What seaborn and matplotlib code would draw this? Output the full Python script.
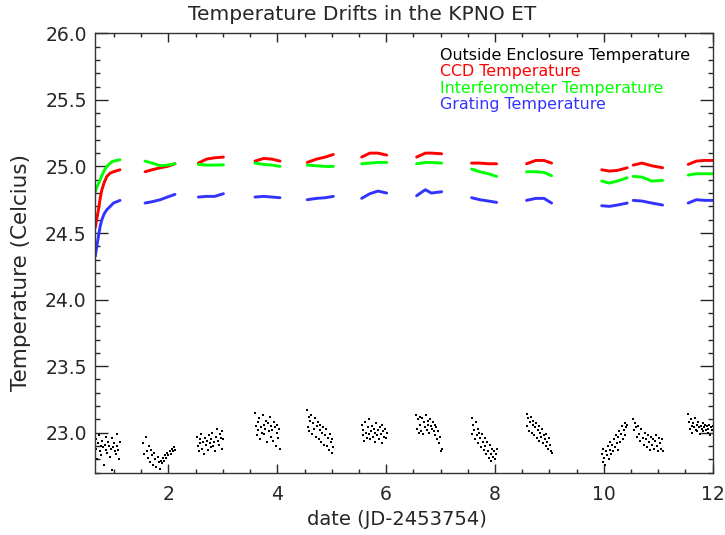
import matplotlib
matplotlib.use("Agg")
import matplotlib.pyplot as plt
from matplotlib.ticker import MultipleLocator, FormatStrFormatter
import seaborn as sns
import numpy as np
import pandas as pd

# sample times of the enclosure sensors, one list per night
sensor_dates = [
    [0.655, 0.68, 0.714, 0.745, 0.777, 0.82, 0.868, 0.93, 0.99, 1.11],
    [1.57, 1.70, 1.85, 1.98, 2.12],
    [2.55, 2.70, 2.85, 3.01],
    [3.59, 3.75, 3.90, 4.05],
    [4.55, 4.72, 4.88, 5.03],
    [5.55, 5.70, 5.85, 6.01],
    [6.56, 6.72, 6.83, 7.02],
    [7.57, 7.72, 7.88, 8.03],
    [8.58, 8.75, 8.90, 9.04],
    [9.96, 10.10, 10.25, 10.43],
    [10.54, 10.70, 10.88, 11.08],
    [11.55, 11.70, 11.85, 12.0],
]
ccd_temp = [
    [24.54, 24.60, 24.675, 24.76, 24.825, 24.88, 24.925, 24.95, 24.96, 24.975],
    [24.96, 24.975, 24.99, 25.0, 25.02],
    [25.025, 25.055, 25.065, 25.07],
    [25.04, 25.06, 25.055, 25.04],
    [25.03, 25.055, 25.07, 25.09],
    [25.07, 25.10, 25.10, 25.085],
    [25.07, 25.10, 25.10, 25.095],
    [25.025, 25.025, 25.02, 25.02],
    [25.02, 25.045, 25.045, 25.025],
    [24.975, 24.965, 24.97, 24.99],
    [25.01, 25.025, 25.005, 24.99],
    [25.015, 25.04, 25.045, 25.045],
]
interf_temp = [
    [24.81, 24.84, 24.87, 24.90, 24.93, 24.97, 25.0, 25.025, 25.04, 25.05],
    [25.04, 25.025, 25.005, 25.01, 25.02],
    [25.015, 25.01, 25.01, 25.012],
    [25.025, 25.015, 25.01, 25.0],
    [25.01, 25.005, 25.0, 25.0],
    [25.02, 25.025, 25.03, 25.03],
    [25.02, 25.03, 25.03, 25.025],
    [24.98, 24.96, 24.945, 24.925],
    [24.96, 24.96, 24.955, 24.93],
    [24.89, 24.875, 24.89, 24.915],
    [24.925, 24.92, 24.89, 24.895],
    [24.935, 24.945, 24.945, 24.945],
]
grating_temp = [
    [24.325, 24.39, 24.475, 24.55, 24.60, 24.645, 24.675, 24.70, 24.725, 24.745],
    [24.725, 24.735, 24.75, 24.77, 24.79],
    [24.77, 24.775, 24.775, 24.795],
    [24.77, 24.775, 24.77, 24.765],
    [24.75, 24.76, 24.765, 24.775],
    [24.76, 24.795, 24.815, 24.80],
    [24.78, 24.825, 24.80, 24.81],
    [24.765, 24.75, 24.74, 24.73],
    [24.745, 24.76, 24.76, 24.725],
    [24.705, 24.70, 24.71, 24.725],
    [24.745, 24.74, 24.725, 24.71],
    [24.725, 24.75, 24.745, 24.745],
]

# outside enclosure readings, logged at a regular rate through each night
night_start = [0.66, 1.54, 2.52, 3.59, 4.54, 5.55, 6.55, 7.57, 8.58, 9.96, 10.54, 11.55]
night_end = [1.11, 2.12, 3.01, 4.05, 5.03, 6.01, 7.02, 8.03, 9.04, 10.43, 11.09, 12.0]
outside_temp = [
    [22.95, 22.88, 22.80, 22.92, 22.98, 22.86, 22.90, 22.83, 22.94, 22.89, 22.76, 22.91, 22.97, 22.87, 22.85,
     22.93, 22.90, 22.82, 22.88, 22.96, 22.72, 22.89, 22.92, 22.86, 22.84, 22.99, 22.90, 22.87, 22.80, 22.93],
    [22.92, 22.84, 22.97, 22.86, 22.81, 22.90, 22.78, 22.87, 22.83, 22.76, 22.85, 22.80, 22.74, 22.82, 22.78,
     22.73, 22.79, 22.77, 22.81, 22.79, 22.83, 22.81, 22.85, 22.83, 22.86, 22.84, 22.88, 22.86, 22.89, 22.87],
    [22.97, 22.90, 22.86, 22.95, 22.92, 22.99, 22.88, 22.93, 22.84, 22.96, 22.91, 22.94, 22.87, 22.98, 22.92,
     22.89, 22.95, 23.00, 22.90, 22.93, 22.86, 22.97, 23.03, 22.94, 22.91, 22.99, 22.96, 22.88, 23.01, 22.95],
    [23.15, 23.05, 22.98, 23.08, 23.02, 23.11, 22.95, 23.04, 23.00, 23.13, 23.06, 22.99, 23.03, 23.09, 22.93,
     23.07, 23.01, 23.12, 22.97, 23.05, 23.02, 22.94, 23.08, 23.04, 22.90, 23.00, 23.06, 22.96, 23.03, 22.88],
    [23.17, 23.04, 23.12, 23.01, 23.09, 23.13, 22.99, 23.07, 23.03, 23.11, 22.97, 23.05, 23.08, 22.95, 23.02,
     23.06, 22.93, 23.00, 23.04, 22.91, 22.98, 23.03, 22.90, 22.96, 22.87, 22.99, 22.93, 22.85, 22.95, 22.89],
    [23.06, 22.98, 23.02, 22.94, 23.08, 23.00, 22.96, 23.04, 22.99, 23.10, 22.95, 23.01, 23.05, 22.97, 23.03,
     22.93, 23.00, 23.07, 22.98, 23.02, 22.95, 23.04, 22.99, 23.06, 22.92, 23.01, 22.97, 23.03, 22.96, 23.00],
    [23.13, 23.03, 23.10, 23.00, 23.12, 23.06, 23.01, 23.11, 22.99, 23.08, 23.04, 23.13, 23.02, 23.09, 23.06,
     23.00, 23.10, 23.05, 23.03, 23.08, 23.01, 23.06, 22.98, 23.04, 22.95, 23.01, 22.92, 22.97, 22.86, 22.88],
    [23.11, 22.99, 23.06, 23.02, 22.95, 23.08, 22.98, 23.03, 22.92, 23.00, 22.96, 22.89, 22.99, 22.93, 22.87,
     22.96, 22.90, 22.84, 22.93, 22.86, 22.81, 22.91, 22.84, 22.79, 22.88, 22.82, 22.86, 22.80, 22.84, 22.88],
    [23.14, 23.05, 23.11, 23.01, 23.08, 23.12, 23.00, 23.06, 23.09, 22.98, 23.04, 23.07, 22.96, 23.02, 23.05,
     22.94, 23.00, 22.97, 23.03, 22.92, 22.98, 22.95, 22.90, 22.99, 22.93, 22.88, 22.96, 22.91, 22.86, 22.85],
    [22.84, 22.78, 22.88, 22.81, 22.76, 22.86, 22.83, 22.90, 22.80, 22.87, 22.93, 22.84, 22.91, 22.86, 22.95,
     22.89, 22.98, 22.92, 22.87, 22.97, 23.01, 22.93, 22.99, 23.05, 22.95, 23.02, 23.07, 22.98, 23.04, 23.06],
    [23.10, 23.02, 23.07, 23.04, 22.97, 23.05, 22.99, 22.94, 23.03, 22.96, 22.91, 23.00, 22.95, 22.89, 22.98,
     22.93, 22.87, 22.97, 22.91, 22.95, 22.88, 22.94, 22.98, 22.90, 22.86, 22.96, 22.92, 22.88, 22.95, 22.86],
    [23.14, 23.08, 23.03, 23.10, 23.05, 23.00, 23.07, 23.04, 23.11, 23.02, 23.06, 23.01, 23.08, 23.04, 22.99,
     23.05, 23.03, 23.07, 23.01, 23.04, 23.06, 23.02, 23.05, 23.00, 23.03, 23.06, 22.98, 23.04, 23.02, 23.05],
]

labels = ["Outside Enclosure Temperature", "CCD Temperature",
          "Interferometer Temperature", "Grating Temperature"]
colors = ["black", "#ff0000", "#00ff00", "#3333ff"]

# long tables for seaborn
rows = []
for name, series in zip(labels[1:], [ccd_temp, interf_temp, grating_temp]):
    for n, (xs, ys) in enumerate(zip(sensor_dates, series)):
        for x, y in zip(xs, ys):
            rows.append((x, y, name, n))
df_in = pd.DataFrame(rows, columns=["date", "temp", "sensor", "night"])

rows = []
for n, vals in enumerate(outside_temp):
    times = np.linspace(night_start[n], night_end[n], len(vals))
    for x, y in zip(times, vals):
        rows.append((x, y, n))
df_out = pd.DataFrame(rows, columns=["date", "temp", "night"])

sns.set_style("ticks")
plt.rcParams['font.family'] = ['DejaVu Sans']

fig = plt.figure(figsize=(7.25, 5.35), dpi=100)
ax = fig.add_axes([0.131, 0.1165, 0.852, 0.8213])

sns.scatterplot(data=df_out, x="date", y="temp", color="black", s=4, marker="s",
                linewidth=0, ax=ax, legend=False)
sns.lineplot(data=df_in, x="date", y="temp", hue="sensor", units="night", estimator=None,
             palette=dict(zip(labels[1:], colors[1:])), linewidth=2.1, ax=ax, legend=False)

ax.set_xlim(0.65, 12.0)
ax.set_ylim(22.7, 26.0)
ax.xaxis.set_major_locator(MultipleLocator(2))
ax.xaxis.set_minor_locator(MultipleLocator(0.5))
ax.yaxis.set_major_locator(MultipleLocator(0.5))
ax.yaxis.set_minor_locator(MultipleLocator(0.1))
ax.yaxis.set_major_formatter(FormatStrFormatter("%.1f"))

ax.tick_params(axis="x", which="major", direction="in", length=6.5, width=1,
               top=True, bottom=True, labelsize=13.5, pad=9)
ax.tick_params(axis="x", which="minor", direction="in", length=3, width=1, top=True, bottom=True)
ax.tick_params(axis="y", which="major", direction="in", length=9.4, width=1,
               left=True, right=True, labelsize=13.5, pad=6)
ax.tick_params(axis="y", which="minor", direction="in", length=3.6, width=1, left=True, right=True)
for sp in ax.spines.values():
    sp.set_linewidth(1)
    sp.set_color("#333333")

ax.set_xlabel("date (JD-2453754)", fontsize=14)
ax.set_ylabel("Temperature (Celcius)", fontsize=15.5)
ax.xaxis.set_label_coords(0.489, -0.085)
ax.yaxis.set_label_coords(-0.104, 0.455)
fig.text(0.5, 0.973, "Temperature Drifts in the KPNO ET", fontsize=14.5, ha="center", va="center")

for i, (lab, c) in enumerate(zip(labels, colors)):
    ax.text(0.5585, 0.949 - i * 0.037, lab, color=c, fontsize=11.4,
            transform=ax.transAxes, va="center", ha="left")

fig.savefig("out.png", dpi=100)
